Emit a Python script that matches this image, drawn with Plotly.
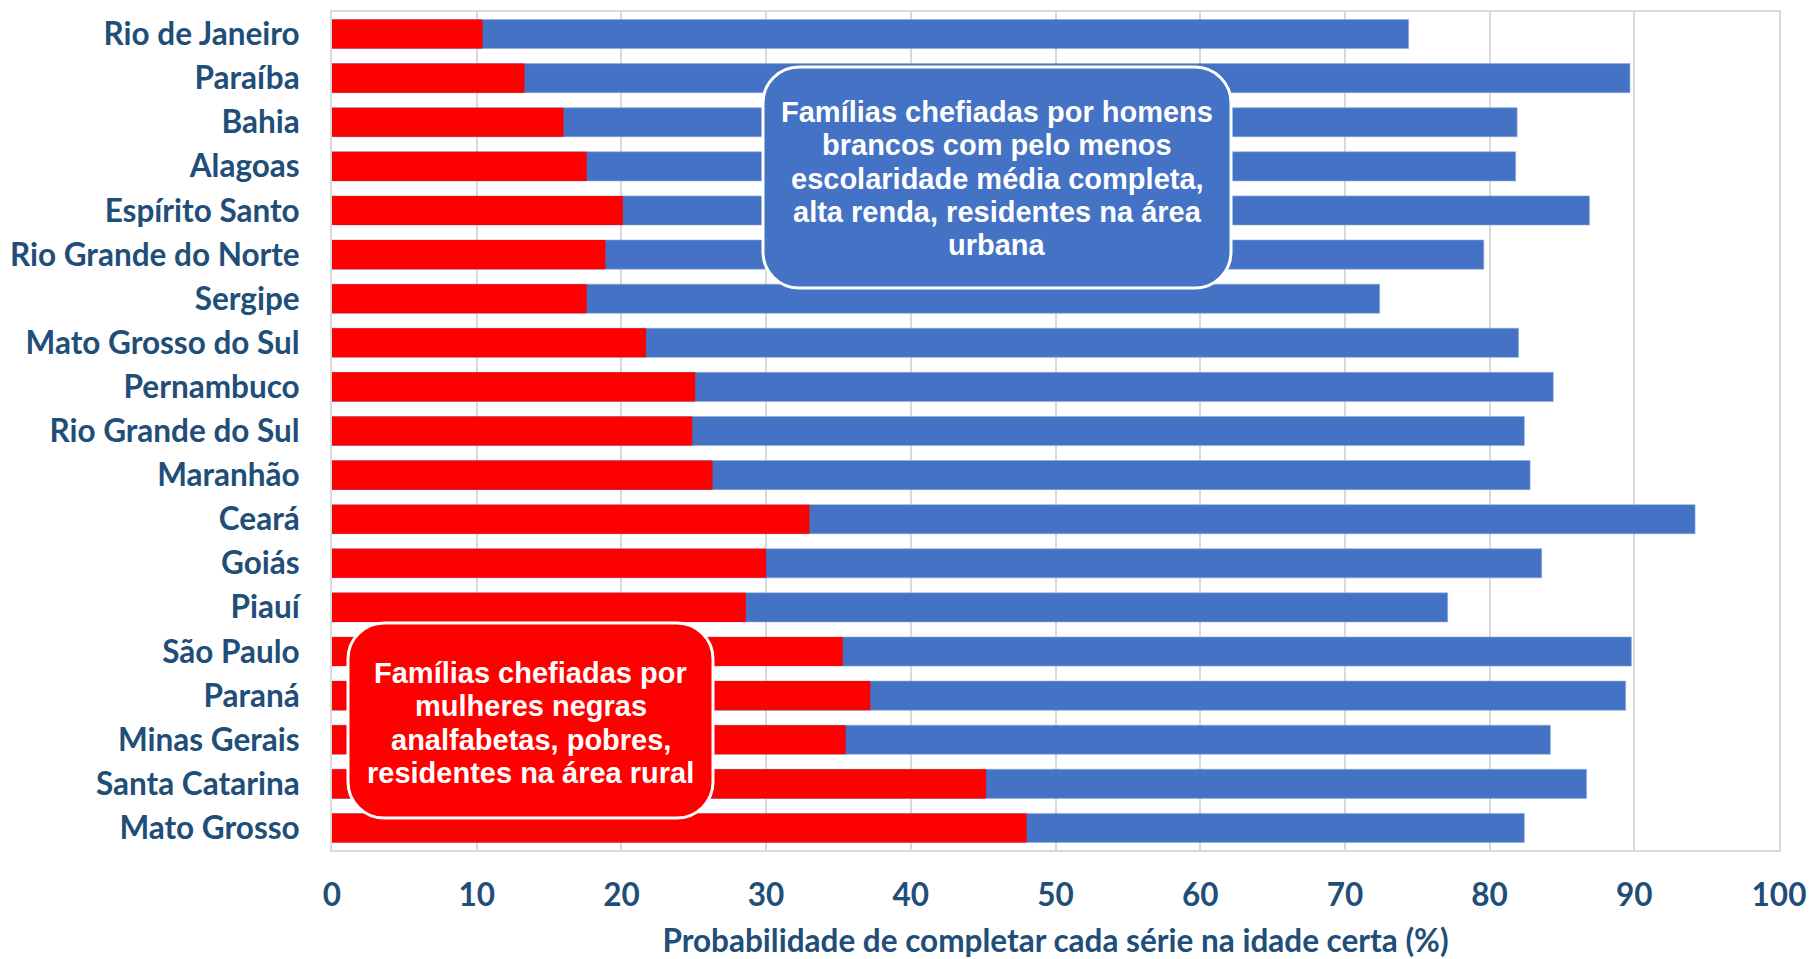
import plotly.graph_objects as go

states = ["Rio de Janeiro", "Paraíba", "Bahia", "Alagoas", "Espírito Santo",
          "Rio Grande do Norte", "Sergipe", "Mato Grosso do Sul", "Pernambuco",
          "Rio Grande do Sul", "Maranhão", "Ceará", "Goiás", "Piauí", "São Paulo",
          "Paraná", "Minas Gerais", "Santa Catarina", "Mato Grosso"]

# Probability (%) - families headed by black illiterate poor rural women
low_group = [10.4, 13.3, 16.0, 17.6, 20.1, 18.9, 17.6, 21.7, 25.1, 24.9, 26.3,
             33.0, 30.0, 28.6, 35.3, 37.2, 35.5, 45.2, 48.0]
# Probability (%) - families headed by white high-income urban men
high_group = [74.4, 89.7, 81.9, 81.8, 86.9, 79.6, 72.4, 82.0, 84.4, 82.4, 82.8,
              94.2, 83.6, 77.1, 89.8, 89.4, 84.2, 86.7, 82.4]

x_ticks = [0, 10, 20, 30, 40, 50, 60, 70, 80, 90, 100]
x_title = "Probabilidade de completar cada série na idade certa (%)"
note_high = ["Famílias chefiadas por homens", "brancos com pelo menos",
             "escolaridade média completa,", "alta renda, residentes na área",
             "urbana"]
note_low = ["Famílias chefiadas por", "mulheres negras",
            "analfabetas, pobres,", "residentes na área rural"]

W, H = 1810, 959
ML, MR, MT, MB = 332, 31, 12, 109
PW, PH = W - ML - MR, H - MT - MB

TXT = "#1F4E79"
BLUE = "#4472C4"
RED = "#FF0000"
GRID = "#D9D9D9"

fig = go.Figure()
fig.add_trace(go.Bar(y=states, x=high_group, orientation="h",
                     marker=dict(color=BLUE, line=dict(color="#8FAADC", width=0.6)),
                     name="Homens brancos"))
fig.add_trace(go.Bar(y=states, x=low_group, orientation="h",
                     marker=dict(color=RED, line=dict(width=0)),
                     name="Mulheres negras"))


def px2paper(px, py):
    return (px - ML) / PW, (MT + PH - py) / PH


def rrect_path(x0, y0, x1, y1, r):
    k = 0.5523 * r
    pts = [
        ("M", [(x0 + r, y0)]),
        ("L", [(x1 - r, y0)]),
        ("C", [(x1 - r + k, y0), (x1, y0 + r - k), (x1, y0 + r)]),
        ("L", [(x1, y1 - r)]),
        ("C", [(x1, y1 - r + k), (x1 - r + k, y1), (x1 - r, y1)]),
        ("L", [(x0 + r, y1)]),
        ("C", [(x0 + r - k, y1), (x0, y1 - r + k), (x0, y1 - r)]),
        ("L", [(x0, y0 + r)]),
        ("C", [(x0, y0 + r - k), (x0 + r - k, y0), (x0 + r, y0)]),
    ]
    s = ""
    for cmd, ps in pts:
        s += cmd + " " + " ".join("%.5f,%.5f" % px2paper(a, b) for a, b in ps) + " "
    return s + "Z"


LINE_H = 33.3
boxes = [
    (763, 67, 1231, 288, 36, BLUE, note_high, 178.5),
    (348, 623, 713, 818, 36, RED, note_low, 723),
]
for x0, y0, x1, y1, r, col, lines, cyc in boxes:
    fig.add_shape(type="path", path=rrect_path(x0, y0, x1, y1, r),
                  xref="paper", yref="paper", fillcolor=col,
                  line=dict(color="white", width=3), layer="above")
    n = len(lines)
    for i, ln in enumerate(lines):
        ly = cyc + (i - (n - 1) / 2) * LINE_H
        cx, cy = px2paper((x0 + x1) / 2, ly)
        fig.add_annotation(x=cx, y=cy, xref="paper", yref="paper", text=ln,
                           showarrow=False, xanchor="center", yanchor="middle",
                           align="center",
                           font=dict(family="Liberation Sans, Arial", size=29,
                                     color="white", weight=700))

fig.update_layout(
    width=W, height=H,
    margin=dict(l=ML, r=MR, t=MT, b=MB, autoexpand=False),
    paper_bgcolor="white", plot_bgcolor="white",
    barmode="overlay", bargap=0.34, showlegend=False,
    font=dict(family="Lato", color=TXT),
)
fig.update_xaxes(range=[0, 100], tickvals=x_ticks, showgrid=True,
                 gridcolor=GRID, gridwidth=2, zeroline=False, automargin=False,
                 showline=True, linecolor=GRID, linewidth=2, mirror=True,
                 ticks="", ticklabelstandoff=16,
                 tickfont=dict(family="Lato", size=31.5, color=TXT, weight=700),
                 title=dict(text=x_title, standoff=33,
                            font=dict(family="Lato", size=31.5, color=TXT, weight=700)))
fig.update_yaxes(autorange="reversed", showgrid=False, zeroline=False,
                 automargin=False,
                 showline=True, linecolor=GRID, linewidth=2, mirror=True,
                 ticks="", ticklabelstandoff=24,
                 tickfont=dict(family="Lato", size=31.5, color=TXT, weight=700))

fig.write_html("out.html",
               config={"displayModeBar": False},
               post_script="document.body.style.margin='0';"
                           "document.body.style.overflow='hidden';")
